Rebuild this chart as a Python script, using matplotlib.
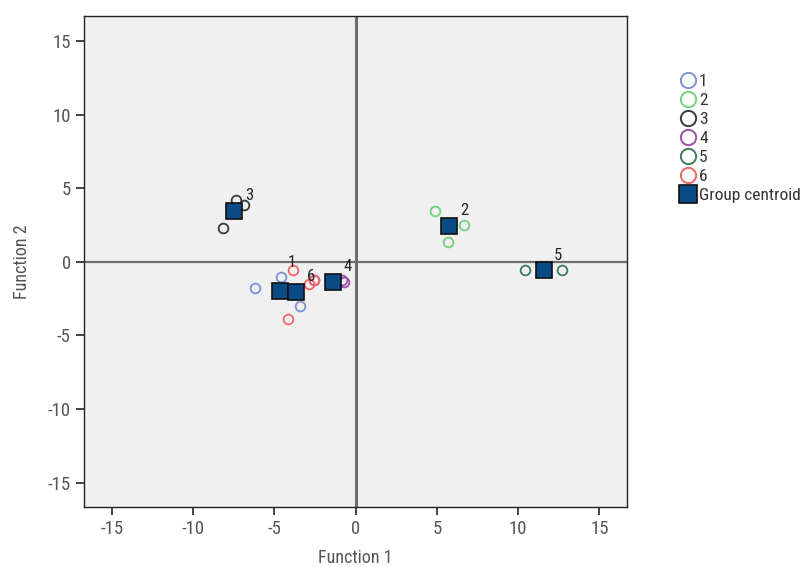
import matplotlib
matplotlib.use('Agg')
import matplotlib.pyplot as plt
from matplotlib.lines import Line2D
from matplotlib import font_manager
import numpy as np

# prefer a narrow face when one is around
names = {f.name for f in font_manager.fontManager.ttflist}
narrow = [n for n in ['Roboto Condensed', 'Liberation Sans Narrow'] if n in names]
plt.rcParams['font.family'] = narrow + ['Roboto', 'DejaVu Sans']
plt.rcParams['axes.unicode_minus'] = False

groups = ['1', '2', '3', '4', '5', '6']
colors = ['#7f91d6', '#72d27c', '#3a3a3a', '#9a52a8', '#3f7d5b', '#f26666']

# discriminant scores per group (Function 1, Function 2)
f1_g1 = [-4.61, -6.21, -3.44]
f2_g1 = [-1.02, -1.77, -2.99]
f1_g2 = [4.86, 6.70, 5.72]
f2_g2 = [3.46, 2.51, 1.36]
f1_g3 = [-7.38, -6.88, -8.17]
f2_g3 = [4.21, 3.87, 2.31]
f1_g4 = [-0.80, -0.72, -2.58]
f2_g4 = [-1.22, -1.40, -1.22]
f1_g5 = [10.45, 12.72]
f2_g5 = [-0.54, -0.54]
f1_g6 = [-3.87, -4.18, -2.83, -2.55]
f2_g6 = [-0.54, -3.87, -1.49, -1.25]

f1_all = [f1_g1, f1_g2, f1_g3, f1_g4, f1_g5, f1_g6]
f2_all = [f2_g1, f2_g2, f2_g3, f2_g4, f2_g5, f2_g6]

# group centroids
cent_f1 = [-4.67, 5.78, -7.50, -1.41, 11.62, -3.63]
cent_f2 = [-1.97, 2.44, 3.46, -1.36, -0.54, -2.04]

fig = plt.figure(figsize=(8.08, 5.67), dpi=100)
ax = fig.add_axes([84 / 808, 60 / 567, 543 / 808, 491 / 567])
ax.set_facecolor('#f0f0f0')

ax.axhline(0, color='#6e6e6e', lw=1.6, zorder=1)
ax.axvline(0, color='#6e6e6e', lw=2.2, zorder=1)

for g, c, xs, ys in zip(groups, colors, f1_all, f2_all):
    ax.plot(xs, ys, 'o', ms=7, mfc='none', mec=c, mew=1.3, zorder=3)

ax.plot(cent_f1, cent_f2, 's', ms=12, mfc='#0a4a85', mec='#111111',
        mew=1.2, zorder=4)

# centroid numbers sit up and to the right; "1" is pushed higher
offsets = [(8.5, 20.5), (11, 11), (11, 11), (10.5, 11), (10, 10.5), (10.5, 11)]
for g, x, y, off in zip(groups, cent_f1, cent_f2, offsets):
    ax.annotate(g, (x, y), xytext=off, textcoords='offset points',
                ha='center', va='center', fontsize=12, color='#222222',
                zorder=5)

ax.set_xlim(-16.7, 16.7)
ax.set_ylim(-16.65, 16.7)
ax.set_xticks(np.arange(-15, 16, 5))
ax.set_yticks(np.arange(-15, 16, 5))
ax.tick_params(direction='out', length=6, width=1.2, labelsize=13.5,
               colors='#222222', labelcolor='#555555')
for s in ax.spines.values():
    s.set_color('#222222')
    s.set_linewidth(1.0)

ax.set_xlabel('Function 1', fontsize=13, color='#555555', labelpad=8)
ax.set_ylabel('Function 2', fontsize=13, color='#555555', labelpad=12)

handles = [Line2D([], [], ls='none', marker='o', ms=11, mfc='none', mec=c,
                  mew=1.4) for c in colors]
handles.append(Line2D([], [], ls='none', marker='s', ms=13, mfc='#0a4a85',
                      mec='#111111', mew=1.2))
labels = groups + ['Group centroid']
fig.legend(handles, labels, loc='upper left',
           bbox_to_anchor=(666 / 808, 1 - 65 / 567),
           frameon=False, fontsize=12.5, handletextpad=-0.1,
           labelspacing=0.22, borderpad=0, handlelength=1.5,
           labelcolor='#333333')

fig.savefig('out.png', dpi=100)
